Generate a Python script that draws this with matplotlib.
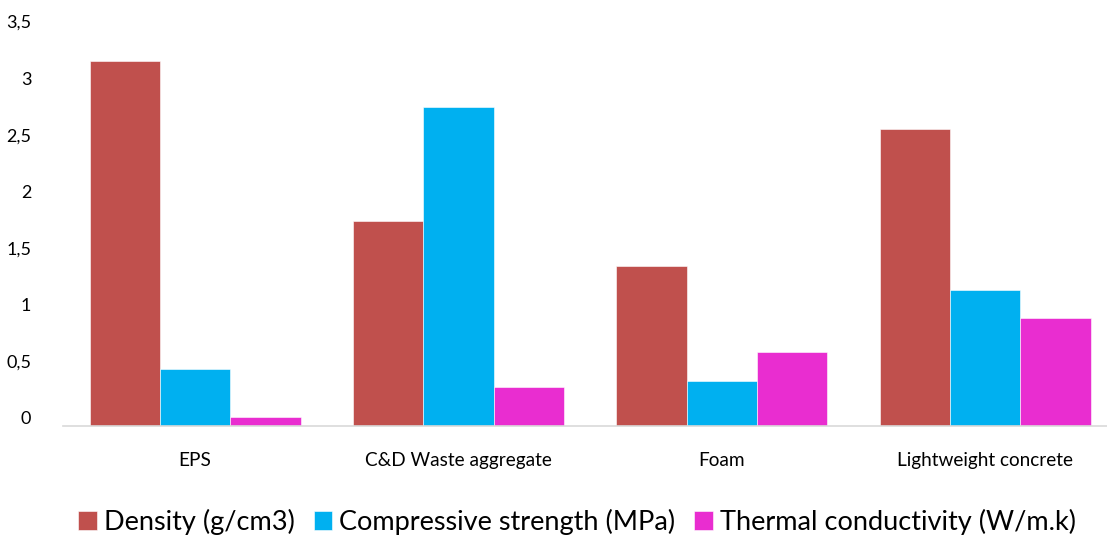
import matplotlib
matplotlib.use("Agg")
import matplotlib.pyplot as plt
import matplotlib.transforms as mtransforms
import numpy as np

categories = ["EPS", "C&D Waste aggregate", "Foam", "Lightweight concrete"]
series_names = ["Density (g/cm3)", "Compressive strength (MPa)", "Thermal conductivity (W/m.k)"]
density = [3.22, 1.81, 1.41, 2.62]
compressive = [0.50, 2.82, 0.40, 1.20]
thermal = [0.08, 0.34, 0.65, 0.95]
colors = ["#C0504D", "#00B0F0", "#E92DD0"]
yticks = [0, 0.5, 1, 1.5, 2, 2.5, 3, 3.5]
yticklabels = ["0", "0,5", "1", "1,5", "2", "2,5", "3", "3,5"]

plt.rcParams['font.family'] = ['Lato', 'DejaVu Sans']

W, H = 1107, 537
fig = plt.figure(figsize=(W/100, H/100), dpi=100)
left = 63.3 / W
right = 1117 / W
bottom = 1 - 426 / H
top = 1 - 29.5 / H
ax = fig.add_axes([left, bottom, right - left, top - bottom])

x = np.arange(len(categories))
w = 0.267
for i, (vals, c, name) in enumerate(zip([density, compressive, thermal], colors, series_names)):
    ax.bar(x + (i - 1) * w, vals, width=w, color=c, label=name, edgecolor='white', linewidth=0.4)

ax.set_xlim(-0.5, len(categories) - 0.5)
ax.set_ylim(0, 3.5)
ax.set_yticks(yticks)
ax.set_yticklabels(yticklabels, fontsize=13, color='#000000')
ax.set_xticks(x)
ax.set_xticklabels(categories, fontsize=13.7, color='#000000')
ax.tick_params(axis='y', length=0, pad=23)
ax.tick_params(axis='x', length=0, pad=19)
for lab in ax.get_yticklabels():
    lab.set_horizontalalignment('right')
    lab.set_transform(lab.get_transform() + mtransforms.ScaledTranslation(0, 8/100, fig.dpi_scale_trans))

for s in ['top', 'right', 'left']:
    ax.spines[s].set_visible(False)
ax.spines['bottom'].set_color('#D9D9D9')
ax.spines['bottom'].set_linewidth(1.2)

handles, labels = ax.get_legend_handles_labels()
fig.legend(handles, labels, loc='center', bbox_to_anchor=(577/W, 1 - 522/H), ncol=3,
           frameon=False, fontsize=19.5, handlelength=0.7, handleheight=0.7,
           handletextpad=0.25, columnspacing=0.7, borderaxespad=0)

fig.savefig("out.png", dpi=100)
